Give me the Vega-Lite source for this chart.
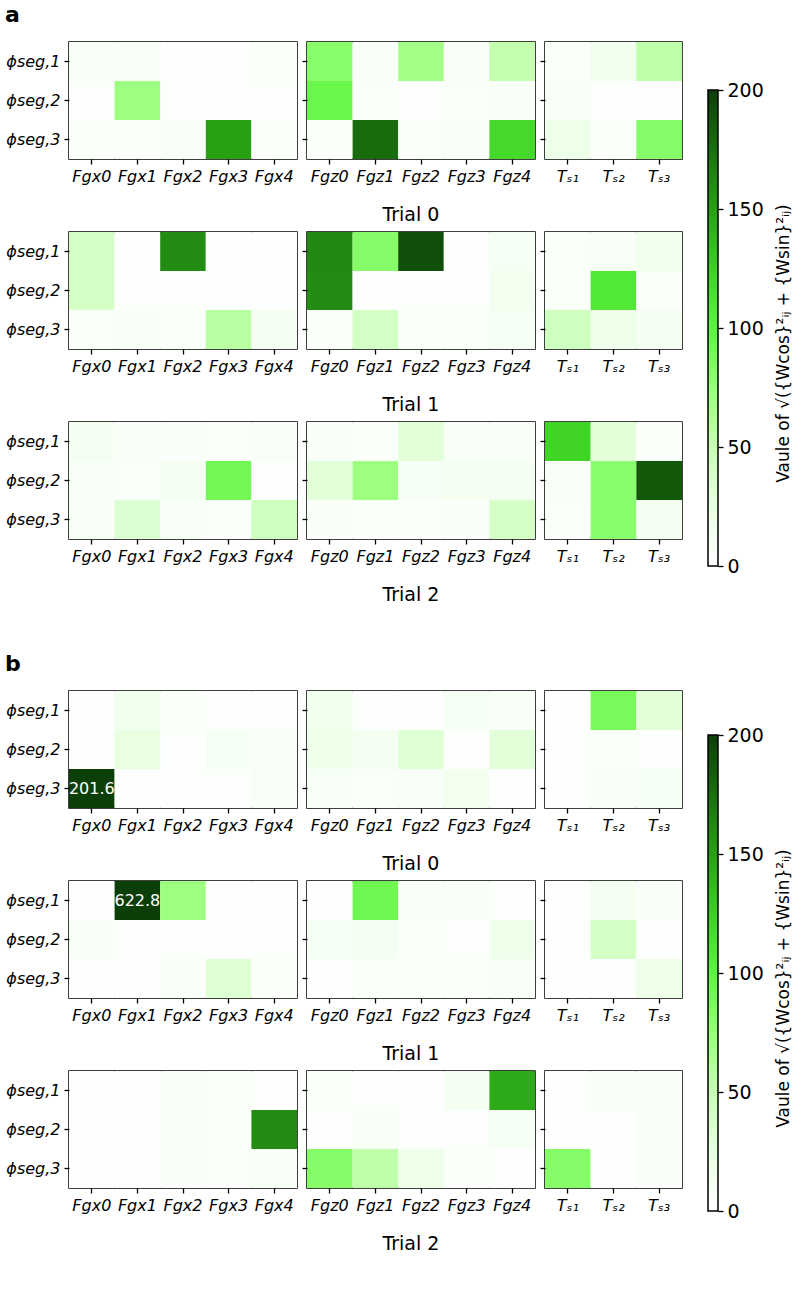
{
"$schema":"https://vega.github.io/schema/vega-lite/v6.json",
"padding":{"left":5,"top":4,"right":0,"bottom":0},
"background":"white",
"datasets":{
"cb":[{"lo":0,"hi":200}],
"hm":[
{"s":"a","t":0,"g":"x","r":1,"c":0,"v":8},{"s":"a","t":0,"g":"x","r":1,"c":1,"v":6},{"s":"a","t":0,"g":"x","r":1,"c":2,"v":3},{"s":"a","t":0,"g":"x","r":1,"c":3,"v":3},{"s":"a","t":0,"g":"x","r":1,"c":4,"v":4},
{"s":"a","t":0,"g":"x","r":2,"c":0,"v":2},{"s":"a","t":0,"g":"x","r":2,"c":1,"v":72},{"s":"a","t":0,"g":"x","r":2,"c":2,"v":3},{"s":"a","t":0,"g":"x","r":2,"c":3,"v":3},{"s":"a","t":0,"g":"x","r":2,"c":4,"v":3},
{"s":"a","t":0,"g":"x","r":3,"c":0,"v":5},{"s":"a","t":0,"g":"x","r":3,"c":1,"v":5},{"s":"a","t":0,"g":"x","r":3,"c":2,"v":6},{"s":"a","t":0,"g":"x","r":3,"c":3,"v":150},{"s":"a","t":0,"g":"x","r":3,"c":4,"v":4},
{"s":"a","t":0,"g":"z","r":1,"c":0,"v":80},{"s":"a","t":0,"g":"z","r":1,"c":1,"v":8},{"s":"a","t":0,"g":"z","r":1,"c":2,"v":70},{"s":"a","t":0,"g":"z","r":1,"c":3,"v":6},{"s":"a","t":0,"g":"z","r":1,"c":4,"v":52},
{"s":"a","t":0,"g":"z","r":2,"c":0,"v":95},{"s":"a","t":0,"g":"z","r":2,"c":1,"v":4},{"s":"a","t":0,"g":"z","r":2,"c":2,"v":3},{"s":"a","t":0,"g":"z","r":2,"c":3,"v":5},{"s":"a","t":0,"g":"z","r":2,"c":4,"v":8},
{"s":"a","t":0,"g":"z","r":3,"c":0,"v":5},{"s":"a","t":0,"g":"z","r":3,"c":1,"v":177},{"s":"a","t":0,"g":"z","r":3,"c":2,"v":5},{"s":"a","t":0,"g":"z","r":3,"c":3,"v":6},{"s":"a","t":0,"g":"z","r":3,"c":4,"v":118},
{"s":"a","t":0,"g":"T","r":1,"c":1,"v":5},{"s":"a","t":0,"g":"T","r":1,"c":2,"v":15},{"s":"a","t":0,"g":"T","r":1,"c":3,"v":55},
{"s":"a","t":0,"g":"T","r":2,"c":1,"v":6},{"s":"a","t":0,"g":"T","r":2,"c":2,"v":3},{"s":"a","t":0,"g":"T","r":2,"c":3,"v":3},
{"s":"a","t":0,"g":"T","r":3,"c":1,"v":20},{"s":"a","t":0,"g":"T","r":3,"c":2,"v":5},{"s":"a","t":0,"g":"T","r":3,"c":3,"v":82},
{"s":"a","t":1,"g":"x","r":1,"c":0,"v":40},{"s":"a","t":1,"g":"x","r":1,"c":1,"v":3},{"s":"a","t":1,"g":"x","r":1,"c":2,"v":160},{"s":"a","t":1,"g":"x","r":1,"c":3,"v":3},{"s":"a","t":1,"g":"x","r":1,"c":4,"v":3},
{"s":"a","t":1,"g":"x","r":2,"c":0,"v":40},{"s":"a","t":1,"g":"x","r":2,"c":1,"v":3},{"s":"a","t":1,"g":"x","r":2,"c":2,"v":3},{"s":"a","t":1,"g":"x","r":2,"c":3,"v":3},{"s":"a","t":1,"g":"x","r":2,"c":4,"v":3},
{"s":"a","t":1,"g":"x","r":3,"c":0,"v":5},{"s":"a","t":1,"g":"x","r":3,"c":1,"v":8},{"s":"a","t":1,"g":"x","r":3,"c":2,"v":4},{"s":"a","t":1,"g":"x","r":3,"c":3,"v":58},{"s":"a","t":1,"g":"x","r":3,"c":4,"v":12},
{"s":"a","t":1,"g":"z","r":1,"c":0,"v":162},{"s":"a","t":1,"g":"z","r":1,"c":1,"v":82},{"s":"a","t":1,"g":"z","r":1,"c":2,"v":192},{"s":"a","t":1,"g":"z","r":1,"c":3,"v":3},{"s":"a","t":1,"g":"z","r":1,"c":4,"v":10},
{"s":"a","t":1,"g":"z","r":2,"c":0,"v":160},{"s":"a","t":1,"g":"z","r":2,"c":1,"v":3},{"s":"a","t":1,"g":"z","r":2,"c":2,"v":3},{"s":"a","t":1,"g":"z","r":2,"c":3,"v":3},{"s":"a","t":1,"g":"z","r":2,"c":4,"v":14},
{"s":"a","t":1,"g":"z","r":3,"c":0,"v":4},{"s":"a","t":1,"g":"z","r":3,"c":1,"v":42},{"s":"a","t":1,"g":"z","r":3,"c":2,"v":4},{"s":"a","t":1,"g":"z","r":3,"c":3,"v":4},{"s":"a","t":1,"g":"z","r":3,"c":4,"v":10},
{"s":"a","t":1,"g":"T","r":1,"c":1,"v":4},{"s":"a","t":1,"g":"T","r":1,"c":2,"v":8},{"s":"a","t":1,"g":"T","r":1,"c":3,"v":15},
{"s":"a","t":1,"g":"T","r":2,"c":1,"v":4},{"s":"a","t":1,"g":"T","r":2,"c":2,"v":108},{"s":"a","t":1,"g":"T","r":2,"c":3,"v":4},
{"s":"a","t":1,"g":"T","r":3,"c":1,"v":45},{"s":"a","t":1,"g":"T","r":3,"c":2,"v":18},{"s":"a","t":1,"g":"T","r":3,"c":3,"v":12},
{"s":"a","t":2,"g":"x","r":1,"c":0,"v":12},{"s":"a","t":2,"g":"x","r":1,"c":1,"v":7},{"s":"a","t":2,"g":"x","r":1,"c":2,"v":6},{"s":"a","t":2,"g":"x","r":1,"c":3,"v":4},{"s":"a","t":2,"g":"x","r":1,"c":4,"v":8},
{"s":"a","t":2,"g":"x","r":2,"c":0,"v":8},{"s":"a","t":2,"g":"x","r":2,"c":1,"v":4},{"s":"a","t":2,"g":"x","r":2,"c":2,"v":12},{"s":"a","t":2,"g":"x","r":2,"c":3,"v":90},{"s":"a","t":2,"g":"x","r":2,"c":4,"v":3},
{"s":"a","t":2,"g":"x","r":3,"c":0,"v":8},{"s":"a","t":2,"g":"x","r":3,"c":1,"v":35},{"s":"a","t":2,"g":"x","r":3,"c":2,"v":8},{"s":"a","t":2,"g":"x","r":3,"c":3,"v":4},{"s":"a","t":2,"g":"x","r":3,"c":4,"v":45},
{"s":"a","t":2,"g":"z","r":1,"c":0,"v":6},{"s":"a","t":2,"g":"z","r":1,"c":1,"v":4},{"s":"a","t":2,"g":"z","r":1,"c":2,"v":30},{"s":"a","t":2,"g":"z","r":1,"c":3,"v":8},{"s":"a","t":2,"g":"z","r":1,"c":4,"v":8},
{"s":"a","t":2,"g":"z","r":2,"c":0,"v":30},{"s":"a","t":2,"g":"z","r":2,"c":1,"v":72},{"s":"a","t":2,"g":"z","r":2,"c":2,"v":10},{"s":"a","t":2,"g":"z","r":2,"c":3,"v":12},{"s":"a","t":2,"g":"z","r":2,"c":4,"v":12},
{"s":"a","t":2,"g":"z","r":3,"c":0,"v":6},{"s":"a","t":2,"g":"z","r":3,"c":1,"v":5},{"s":"a","t":2,"g":"z","r":3,"c":2,"v":5},{"s":"a","t":2,"g":"z","r":3,"c":3,"v":6},{"s":"a","t":2,"g":"z","r":3,"c":4,"v":40},
{"s":"a","t":2,"g":"T","r":1,"c":1,"v":122},{"s":"a","t":2,"g":"T","r":1,"c":2,"v":30},{"s":"a","t":2,"g":"T","r":1,"c":3,"v":4},
{"s":"a","t":2,"g":"T","r":2,"c":1,"v":6},{"s":"a","t":2,"g":"T","r":2,"c":2,"v":80},{"s":"a","t":2,"g":"T","r":2,"c":3,"v":188},
{"s":"a","t":2,"g":"T","r":3,"c":1,"v":5},{"s":"a","t":2,"g":"T","r":3,"c":2,"v":80},{"s":"a","t":2,"g":"T","r":3,"c":3,"v":12},
{"s":"b","t":0,"g":"x","r":1,"c":0,"v":3},{"s":"b","t":0,"g":"x","r":1,"c":1,"v":15},{"s":"b","t":0,"g":"x","r":1,"c":2,"v":4},{"s":"b","t":0,"g":"x","r":1,"c":3,"v":3},{"s":"b","t":0,"g":"x","r":1,"c":4,"v":3},
{"s":"b","t":0,"g":"x","r":2,"c":0,"v":3},{"s":"b","t":0,"g":"x","r":2,"c":1,"v":25},{"s":"b","t":0,"g":"x","r":2,"c":2,"v":3},{"s":"b","t":0,"g":"x","r":2,"c":3,"v":10},{"s":"b","t":0,"g":"x","r":2,"c":4,"v":6},
{"s":"b","t":0,"g":"x","r":3,"c":0,"v":201.6},{"s":"b","t":0,"g":"x","r":3,"c":1,"v":3},{"s":"b","t":0,"g":"x","r":3,"c":2,"v":3},{"s":"b","t":0,"g":"x","r":3,"c":3,"v":3},{"s":"b","t":0,"g":"x","r":3,"c":4,"v":6},
{"s":"b","t":0,"g":"z","r":1,"c":0,"v":15},{"s":"b","t":0,"g":"z","r":1,"c":1,"v":3},{"s":"b","t":0,"g":"z","r":1,"c":2,"v":3},{"s":"b","t":0,"g":"z","r":1,"c":3,"v":10},{"s":"b","t":0,"g":"z","r":1,"c":4,"v":8},
{"s":"b","t":0,"g":"z","r":2,"c":0,"v":18},{"s":"b","t":0,"g":"z","r":2,"c":1,"v":12},{"s":"b","t":0,"g":"z","r":2,"c":2,"v":32},{"s":"b","t":0,"g":"z","r":2,"c":3,"v":2},{"s":"b","t":0,"g":"z","r":2,"c":4,"v":30},
{"s":"b","t":0,"g":"z","r":3,"c":0,"v":8},{"s":"b","t":0,"g":"z","r":3,"c":1,"v":4},{"s":"b","t":0,"g":"z","r":3,"c":2,"v":8},{"s":"b","t":0,"g":"z","r":3,"c":3,"v":14},{"s":"b","t":0,"g":"z","r":3,"c":4,"v":3},
{"s":"b","t":0,"g":"T","r":1,"c":1,"v":3},{"s":"b","t":0,"g":"T","r":1,"c":2,"v":88},{"s":"b","t":0,"g":"T","r":1,"c":3,"v":30},
{"s":"b","t":0,"g":"T","r":2,"c":1,"v":3},{"s":"b","t":0,"g":"T","r":2,"c":2,"v":5},{"s":"b","t":0,"g":"T","r":2,"c":3,"v":3},
{"s":"b","t":0,"g":"T","r":3,"c":1,"v":3},{"s":"b","t":0,"g":"T","r":3,"c":2,"v":6},{"s":"b","t":0,"g":"T","r":3,"c":3,"v":10},
{"s":"b","t":1,"g":"x","r":1,"c":0,"v":3},{"s":"b","t":1,"g":"x","r":1,"c":1,"v":622.8},{"s":"b","t":1,"g":"x","r":1,"c":2,"v":72},{"s":"b","t":1,"g":"x","r":1,"c":3,"v":3},{"s":"b","t":1,"g":"x","r":1,"c":4,"v":3},
{"s":"b","t":1,"g":"x","r":2,"c":0,"v":8},{"s":"b","t":1,"g":"x","r":2,"c":1,"v":3},{"s":"b","t":1,"g":"x","r":2,"c":2,"v":3},{"s":"b","t":1,"g":"x","r":2,"c":3,"v":3},{"s":"b","t":1,"g":"x","r":2,"c":4,"v":3},
{"s":"b","t":1,"g":"x","r":3,"c":0,"v":3},{"s":"b","t":1,"g":"x","r":3,"c":1,"v":3},{"s":"b","t":1,"g":"x","r":3,"c":2,"v":6},{"s":"b","t":1,"g":"x","r":3,"c":3,"v":32},{"s":"b","t":1,"g":"x","r":3,"c":4,"v":4},
{"s":"b","t":1,"g":"z","r":1,"c":0,"v":3},{"s":"b","t":1,"g":"z","r":1,"c":1,"v":92},{"s":"b","t":1,"g":"z","r":1,"c":2,"v":8},{"s":"b","t":1,"g":"z","r":1,"c":3,"v":8},{"s":"b","t":1,"g":"z","r":1,"c":4,"v":3},
{"s":"b","t":1,"g":"z","r":2,"c":0,"v":10},{"s":"b","t":1,"g":"z","r":2,"c":1,"v":12},{"s":"b","t":1,"g":"z","r":2,"c":2,"v":4},{"s":"b","t":1,"g":"z","r":2,"c":3,"v":3},{"s":"b","t":1,"g":"z","r":2,"c":4,"v":18},
{"s":"b","t":1,"g":"z","r":3,"c":0,"v":3},{"s":"b","t":1,"g":"z","r":3,"c":1,"v":4},{"s":"b","t":1,"g":"z","r":3,"c":2,"v":4},{"s":"b","t":1,"g":"z","r":3,"c":3,"v":4},{"s":"b","t":1,"g":"z","r":3,"c":4,"v":6},
{"s":"b","t":1,"g":"T","r":1,"c":1,"v":3},{"s":"b","t":1,"g":"T","r":1,"c":2,"v":12},{"s":"b","t":1,"g":"T","r":1,"c":3,"v":6},
{"s":"b","t":1,"g":"T","r":2,"c":1,"v":3},{"s":"b","t":1,"g":"T","r":2,"c":2,"v":42},{"s":"b","t":1,"g":"T","r":2,"c":3,"v":2},
{"s":"b","t":1,"g":"T","r":3,"c":1,"v":3},{"s":"b","t":1,"g":"T","r":3,"c":2,"v":3},{"s":"b","t":1,"g":"T","r":3,"c":3,"v":20},
{"s":"b","t":2,"g":"x","r":1,"c":0,"v":3},{"s":"b","t":2,"g":"x","r":1,"c":1,"v":3},{"s":"b","t":2,"g":"x","r":1,"c":2,"v":6},{"s":"b","t":2,"g":"x","r":1,"c":3,"v":5},{"s":"b","t":2,"g":"x","r":1,"c":4,"v":3},
{"s":"b","t":2,"g":"x","r":2,"c":0,"v":3},{"s":"b","t":2,"g":"x","r":2,"c":1,"v":3},{"s":"b","t":2,"g":"x","r":2,"c":2,"v":6},{"s":"b","t":2,"g":"x","r":2,"c":3,"v":4},{"s":"b","t":2,"g":"x","r":2,"c":4,"v":160},
{"s":"b","t":2,"g":"x","r":3,"c":0,"v":3},{"s":"b","t":2,"g":"x","r":3,"c":1,"v":3},{"s":"b","t":2,"g":"x","r":3,"c":2,"v":6},{"s":"b","t":2,"g":"x","r":3,"c":3,"v":4},{"s":"b","t":2,"g":"x","r":3,"c":4,"v":8},
{"s":"b","t":2,"g":"z","r":1,"c":0,"v":5},{"s":"b","t":2,"g":"z","r":1,"c":1,"v":3},{"s":"b","t":2,"g":"z","r":1,"c":2,"v":3},{"s":"b","t":2,"g":"z","r":1,"c":3,"v":12},{"s":"b","t":2,"g":"z","r":1,"c":4,"v":145},
{"s":"b","t":2,"g":"z","r":2,"c":0,"v":3},{"s":"b","t":2,"g":"z","r":2,"c":1,"v":8},{"s":"b","t":2,"g":"z","r":2,"c":2,"v":3},{"s":"b","t":2,"g":"z","r":2,"c":3,"v":3},{"s":"b","t":2,"g":"z","r":2,"c":4,"v":10},
{"s":"b","t":2,"g":"z","r":3,"c":0,"v":82},{"s":"b","t":2,"g":"z","r":3,"c":1,"v":55},{"s":"b","t":2,"g":"z","r":3,"c":2,"v":18},{"s":"b","t":2,"g":"z","r":3,"c":3,"v":5},{"s":"b","t":2,"g":"z","r":3,"c":4,"v":3},
{"s":"b","t":2,"g":"T","r":1,"c":1,"v":3},{"s":"b","t":2,"g":"T","r":1,"c":2,"v":6},{"s":"b","t":2,"g":"T","r":1,"c":3,"v":8},
{"s":"b","t":2,"g":"T","r":2,"c":1,"v":3},{"s":"b","t":2,"g":"T","r":2,"c":2,"v":3},{"s":"b","t":2,"g":"T","r":2,"c":3,"v":6},
{"s":"b","t":2,"g":"T","r":3,"c":1,"v":82},{"s":"b","t":2,"g":"T","r":3,"c":2,"v":3},{"s":"b","t":2,"g":"T","r":3,"c":3,"v":6}
]},
"data":{"name":"hm"},
"config":{
"font":"DejaVu Sans",
"view":{"stroke":"black","strokeWidth":1.5},
"axis":{"domain":false,"grid":false,"tickColor":"black","tickWidth":1.3,"tickSize":5,"labelColor":"black","labelFont":"DejaVu Sans","labelFontSize":16,"labelFontStyle":"italic","labelPadding":4},
"axisX":{"labelAngle":0},
"title":{"font":"DejaVu Sans","fontSize":19,"fontWeight":"normal","color":"black"}
},
"spacing":48,
"vconcat":[
{"title":{"text":"a","anchor":"start","fontSize":22,"fontWeight":"bold","offset":14},"spacing":24,"hconcat":[
 {"spacing":6,"vconcat":[
  {"title":{"text":"Trial 0","orient":"bottom","anchor":"middle","dx":67,"offset":21},"spacing":2,"hconcat":[
   {"width":228,"height":117,"transform":[{"filter":"datum.s=='a'&&datum.t==0&&datum.g=='x'"}],"mark":"rect","encoding":{"x":{"field":"c","type":"ordinal","title":null,"axis":{"labelExpr":"'Fgx'+datum.value"}},"y":{"field":"r","type":"ordinal","title":null,"axis":{"labelExpr":"'ϕseg,'+datum.value"}},"color":{"field":"v","type":"quantitative","legend":null,"scale":{"domain":[0,25,50,75,100,125,150,175,200],"range":["#ffffff","#e8ffe2","#c8ffb5","#96ff78","#5cf53e","#3cd024","#28a014","#1a700e","#0c3f08"],"interpolate":"rgb","clamp":true}}}},
   {"width":228,"height":117,"transform":[{"filter":"datum.s=='a'&&datum.t==0&&datum.g=='z'"}],"mark":"rect","encoding":{"x":{"field":"c","type":"ordinal","title":null,"axis":{"labelExpr":"'Fgz'+datum.value"}},"y":{"field":"r","type":"ordinal","title":null,"axis":{"labels":false}},"color":{"field":"v","type":"quantitative","legend":null,"scale":{"domain":[0,25,50,75,100,125,150,175,200],"range":["#ffffff","#e8ffe2","#c8ffb5","#96ff78","#5cf53e","#3cd024","#28a014","#1a700e","#0c3f08"],"interpolate":"rgb","clamp":true}}}},
   {"width":137,"height":117,"transform":[{"filter":"datum.s=='a'&&datum.t==0&&datum.g=='T'"}],"mark":"rect","encoding":{"x":{"field":"c","type":"ordinal","title":null,"axis":{"labelExpr":"'Tₛ'+['₀','₁','₂','₃'][datum.value]"}},"y":{"field":"r","type":"ordinal","title":null,"axis":{"labels":false}},"color":{"field":"v","type":"quantitative","legend":null,"scale":{"domain":[0,25,50,75,100,125,150,175,200],"range":["#ffffff","#e8ffe2","#c8ffb5","#96ff78","#5cf53e","#3cd024","#28a014","#1a700e","#0c3f08"],"interpolate":"rgb","clamp":true}}}}
  ]},
  {"title":{"text":"Trial 1","orient":"bottom","anchor":"middle","dx":67,"offset":21},"spacing":2,"hconcat":[
   {"width":228,"height":117,"transform":[{"filter":"datum.s=='a'&&datum.t==1&&datum.g=='x'"}],"mark":"rect","encoding":{"x":{"field":"c","type":"ordinal","title":null,"axis":{"labelExpr":"'Fgx'+datum.value"}},"y":{"field":"r","type":"ordinal","title":null,"axis":{"labelExpr":"'ϕseg,'+datum.value"}},"color":{"field":"v","type":"quantitative","legend":null,"scale":{"domain":[0,25,50,75,100,125,150,175,200],"range":["#ffffff","#e8ffe2","#c8ffb5","#96ff78","#5cf53e","#3cd024","#28a014","#1a700e","#0c3f08"],"interpolate":"rgb","clamp":true}}}},
   {"width":228,"height":117,"transform":[{"filter":"datum.s=='a'&&datum.t==1&&datum.g=='z'"}],"mark":"rect","encoding":{"x":{"field":"c","type":"ordinal","title":null,"axis":{"labelExpr":"'Fgz'+datum.value"}},"y":{"field":"r","type":"ordinal","title":null,"axis":{"labels":false}},"color":{"field":"v","type":"quantitative","legend":null,"scale":{"domain":[0,25,50,75,100,125,150,175,200],"range":["#ffffff","#e8ffe2","#c8ffb5","#96ff78","#5cf53e","#3cd024","#28a014","#1a700e","#0c3f08"],"interpolate":"rgb","clamp":true}}}},
   {"width":137,"height":117,"transform":[{"filter":"datum.s=='a'&&datum.t==1&&datum.g=='T'"}],"mark":"rect","encoding":{"x":{"field":"c","type":"ordinal","title":null,"axis":{"labelExpr":"'Tₛ'+['₀','₁','₂','₃'][datum.value]"}},"y":{"field":"r","type":"ordinal","title":null,"axis":{"labels":false}},"color":{"field":"v","type":"quantitative","legend":null,"scale":{"domain":[0,25,50,75,100,125,150,175,200],"range":["#ffffff","#e8ffe2","#c8ffb5","#96ff78","#5cf53e","#3cd024","#28a014","#1a700e","#0c3f08"],"interpolate":"rgb","clamp":true}}}}
  ]},
  {"title":{"text":"Trial 2","orient":"bottom","anchor":"middle","dx":67,"offset":21},"spacing":2,"hconcat":[
   {"width":228,"height":117,"transform":[{"filter":"datum.s=='a'&&datum.t==2&&datum.g=='x'"}],"mark":"rect","encoding":{"x":{"field":"c","type":"ordinal","title":null,"axis":{"labelExpr":"'Fgx'+datum.value"}},"y":{"field":"r","type":"ordinal","title":null,"axis":{"labelExpr":"'ϕseg,'+datum.value"}},"color":{"field":"v","type":"quantitative","legend":null,"scale":{"domain":[0,25,50,75,100,125,150,175,200],"range":["#ffffff","#e8ffe2","#c8ffb5","#96ff78","#5cf53e","#3cd024","#28a014","#1a700e","#0c3f08"],"interpolate":"rgb","clamp":true}}}},
   {"width":228,"height":117,"transform":[{"filter":"datum.s=='a'&&datum.t==2&&datum.g=='z'"}],"mark":"rect","encoding":{"x":{"field":"c","type":"ordinal","title":null,"axis":{"labelExpr":"'Fgz'+datum.value"}},"y":{"field":"r","type":"ordinal","title":null,"axis":{"labels":false}},"color":{"field":"v","type":"quantitative","legend":null,"scale":{"domain":[0,25,50,75,100,125,150,175,200],"range":["#ffffff","#e8ffe2","#c8ffb5","#96ff78","#5cf53e","#3cd024","#28a014","#1a700e","#0c3f08"],"interpolate":"rgb","clamp":true}}}},
   {"width":137,"height":117,"transform":[{"filter":"datum.s=='a'&&datum.t==2&&datum.g=='T'"}],"mark":"rect","encoding":{"x":{"field":"c","type":"ordinal","title":null,"axis":{"labelExpr":"'Tₛ'+['₀','₁','₂','₃'][datum.value]"}},"y":{"field":"r","type":"ordinal","title":null,"axis":{"labels":false}},"color":{"field":"v","type":"quantitative","legend":null,"scale":{"domain":[0,25,50,75,100,125,150,175,200],"range":["#ffffff","#e8ffe2","#c8ffb5","#96ff78","#5cf53e","#3cd024","#28a014","#1a700e","#0c3f08"],"interpolate":"rgb","clamp":true}}}}
  ]}
 ]},
 {"width":10,"height":524,"view":{"stroke":null},"data":{"name":"cb"},"mark":{"type":"rect","stroke":"black","strokeWidth":1.5,"color":{"gradient":"linear","x1":0,"y1":1,"x2":0,"y2":0,"stops":[{"offset":0,"color":"#ffffff"},{"offset":0.125,"color":"#e8ffe2"},{"offset":0.25,"color":"#c8ffb5"},{"offset":0.375,"color":"#96ff78"},{"offset":0.5,"color":"#5cf53e"},{"offset":0.625,"color":"#3cd024"},{"offset":0.75,"color":"#28a014"},{"offset":0.875,"color":"#1a700e"},{"offset":1,"color":"#0c3f08"}]}},"encoding":{"y":{"field":"lo","type":"quantitative","scale":{"domain":[0,220.17],"nice":false},"title":"Vaule of √({Wcos}²ᵢⱼ + {Wsin}²ᵢⱼ)","axis":{"orient":"right","values":[0,50,100,150,200],"labelFontSize":19,"labelFontStyle":"normal","labelPadding":4,"titleFontSize":17,"titleFontWeight":"normal","titleColor":"black","titleAngle":270,"titleBaseline":"top","titleAlign":"center","titleY":301,"titlePadding":12}},"y2":{"field":"hi"}}}
]},
{"title":{"text":"b","anchor":"start","fontSize":22,"fontWeight":"bold","offset":14},"spacing":24,"hconcat":[
 {"spacing":6,"vconcat":[
  {"title":{"text":"Trial 0","orient":"bottom","anchor":"middle","dx":67,"offset":21},"spacing":2,"hconcat":[
   {"width":228,"height":117,"transform":[{"filter":"datum.s=='b'&&datum.t==0&&datum.g=='x'"}],"encoding":{"x":{"field":"c","type":"ordinal","title":null,"axis":{"labelExpr":"'Fgx'+datum.value"}},"y":{"field":"r","type":"ordinal","title":null,"axis":{"labelExpr":"'ϕseg,'+datum.value"}}},"layer":[
    {"mark":"rect","encoding":{"color":{"field":"v","type":"quantitative","legend":null,"scale":{"domain":[0,25,50,75,100,125,150,175,200],"range":["#ffffff","#e8ffe2","#c8ffb5","#96ff78","#5cf53e","#3cd024","#28a014","#1a700e","#0c3f08"],"interpolate":"rgb","clamp":true}}}},
    {"transform":[{"filter":"datum.v>200"}],"mark":{"type":"text","color":"white","fontSize":16},"encoding":{"text":{"field":"v","type":"quantitative","format":".1f"}}}
   ]},
   {"width":228,"height":117,"transform":[{"filter":"datum.s=='b'&&datum.t==0&&datum.g=='z'"}],"mark":"rect","encoding":{"x":{"field":"c","type":"ordinal","title":null,"axis":{"labelExpr":"'Fgz'+datum.value"}},"y":{"field":"r","type":"ordinal","title":null,"axis":{"labels":false}},"color":{"field":"v","type":"quantitative","legend":null,"scale":{"domain":[0,25,50,75,100,125,150,175,200],"range":["#ffffff","#e8ffe2","#c8ffb5","#96ff78","#5cf53e","#3cd024","#28a014","#1a700e","#0c3f08"],"interpolate":"rgb","clamp":true}}}},
   {"width":137,"height":117,"transform":[{"filter":"datum.s=='b'&&datum.t==0&&datum.g=='T'"}],"mark":"rect","encoding":{"x":{"field":"c","type":"ordinal","title":null,"axis":{"labelExpr":"'Tₛ'+['₀','₁','₂','₃'][datum.value]"}},"y":{"field":"r","type":"ordinal","title":null,"axis":{"labels":false}},"color":{"field":"v","type":"quantitative","legend":null,"scale":{"domain":[0,25,50,75,100,125,150,175,200],"range":["#ffffff","#e8ffe2","#c8ffb5","#96ff78","#5cf53e","#3cd024","#28a014","#1a700e","#0c3f08"],"interpolate":"rgb","clamp":true}}}}
  ]},
  {"title":{"text":"Trial 1","orient":"bottom","anchor":"middle","dx":67,"offset":21},"spacing":2,"hconcat":[
   {"width":228,"height":117,"transform":[{"filter":"datum.s=='b'&&datum.t==1&&datum.g=='x'"}],"encoding":{"x":{"field":"c","type":"ordinal","title":null,"axis":{"labelExpr":"'Fgx'+datum.value"}},"y":{"field":"r","type":"ordinal","title":null,"axis":{"labelExpr":"'ϕseg,'+datum.value"}}},"layer":[
    {"mark":"rect","encoding":{"color":{"field":"v","type":"quantitative","legend":null,"scale":{"domain":[0,25,50,75,100,125,150,175,200],"range":["#ffffff","#e8ffe2","#c8ffb5","#96ff78","#5cf53e","#3cd024","#28a014","#1a700e","#0c3f08"],"interpolate":"rgb","clamp":true}}}},
    {"transform":[{"filter":"datum.v>200"}],"mark":{"type":"text","color":"white","fontSize":16},"encoding":{"text":{"field":"v","type":"quantitative","format":".1f"}}}
   ]},
   {"width":228,"height":117,"transform":[{"filter":"datum.s=='b'&&datum.t==1&&datum.g=='z'"}],"mark":"rect","encoding":{"x":{"field":"c","type":"ordinal","title":null,"axis":{"labelExpr":"'Fgz'+datum.value"}},"y":{"field":"r","type":"ordinal","title":null,"axis":{"labels":false}},"color":{"field":"v","type":"quantitative","legend":null,"scale":{"domain":[0,25,50,75,100,125,150,175,200],"range":["#ffffff","#e8ffe2","#c8ffb5","#96ff78","#5cf53e","#3cd024","#28a014","#1a700e","#0c3f08"],"interpolate":"rgb","clamp":true}}}},
   {"width":137,"height":117,"transform":[{"filter":"datum.s=='b'&&datum.t==1&&datum.g=='T'"}],"mark":"rect","encoding":{"x":{"field":"c","type":"ordinal","title":null,"axis":{"labelExpr":"'Tₛ'+['₀','₁','₂','₃'][datum.value]"}},"y":{"field":"r","type":"ordinal","title":null,"axis":{"labels":false}},"color":{"field":"v","type":"quantitative","legend":null,"scale":{"domain":[0,25,50,75,100,125,150,175,200],"range":["#ffffff","#e8ffe2","#c8ffb5","#96ff78","#5cf53e","#3cd024","#28a014","#1a700e","#0c3f08"],"interpolate":"rgb","clamp":true}}}}
  ]},
  {"title":{"text":"Trial 2","orient":"bottom","anchor":"middle","dx":67,"offset":21},"spacing":2,"hconcat":[
   {"width":228,"height":117,"transform":[{"filter":"datum.s=='b'&&datum.t==2&&datum.g=='x'"}],"mark":"rect","encoding":{"x":{"field":"c","type":"ordinal","title":null,"axis":{"labelExpr":"'Fgx'+datum.value"}},"y":{"field":"r","type":"ordinal","title":null,"axis":{"labelExpr":"'ϕseg,'+datum.value"}},"color":{"field":"v","type":"quantitative","legend":null,"scale":{"domain":[0,25,50,75,100,125,150,175,200],"range":["#ffffff","#e8ffe2","#c8ffb5","#96ff78","#5cf53e","#3cd024","#28a014","#1a700e","#0c3f08"],"interpolate":"rgb","clamp":true}}}},
   {"width":228,"height":117,"transform":[{"filter":"datum.s=='b'&&datum.t==2&&datum.g=='z'"}],"mark":"rect","encoding":{"x":{"field":"c","type":"ordinal","title":null,"axis":{"labelExpr":"'Fgz'+datum.value"}},"y":{"field":"r","type":"ordinal","title":null,"axis":{"labels":false}},"color":{"field":"v","type":"quantitative","legend":null,"scale":{"domain":[0,25,50,75,100,125,150,175,200],"range":["#ffffff","#e8ffe2","#c8ffb5","#96ff78","#5cf53e","#3cd024","#28a014","#1a700e","#0c3f08"],"interpolate":"rgb","clamp":true}}}},
   {"width":137,"height":117,"transform":[{"filter":"datum.s=='b'&&datum.t==2&&datum.g=='T'"}],"mark":"rect","encoding":{"x":{"field":"c","type":"ordinal","title":null,"axis":{"labelExpr":"'Tₛ'+['₀','₁','₂','₃'][datum.value]"}},"y":{"field":"r","type":"ordinal","title":null,"axis":{"labels":false}},"color":{"field":"v","type":"quantitative","legend":null,"scale":{"domain":[0,25,50,75,100,125,150,175,200],"range":["#ffffff","#e8ffe2","#c8ffb5","#96ff78","#5cf53e","#3cd024","#28a014","#1a700e","#0c3f08"],"interpolate":"rgb","clamp":true}}}}
  ]}
 ]},
 {"width":10,"height":520,"view":{"stroke":null},"data":{"name":"cb"},"mark":{"type":"rect","stroke":"black","strokeWidth":1.5,"color":{"gradient":"linear","x1":0,"y1":1,"x2":0,"y2":0,"stops":[{"offset":0,"color":"#ffffff"},{"offset":0.125,"color":"#e8ffe2"},{"offset":0.25,"color":"#c8ffb5"},{"offset":0.375,"color":"#96ff78"},{"offset":0.5,"color":"#5cf53e"},{"offset":0.625,"color":"#3cd024"},{"offset":0.75,"color":"#28a014"},{"offset":0.875,"color":"#1a700e"},{"offset":1,"color":"#0c3f08"}]}},"encoding":{"y":{"field":"lo","type":"quantitative","scale":{"domain":[0,218.49],"nice":false},"title":"Vaule of √({Wcos}²ᵢⱼ + {Wsin}²ᵢⱼ)","axis":{"orient":"right","values":[0,50,100,150,200],"labelFontSize":19,"labelFontStyle":"normal","labelPadding":4,"titleFontSize":17,"titleFontWeight":"normal","titleColor":"black","titleAngle":270,"titleBaseline":"top","titleAlign":"center","titleY":297,"titlePadding":12}},"y2":{"field":"hi"}}}
]}
]
}
